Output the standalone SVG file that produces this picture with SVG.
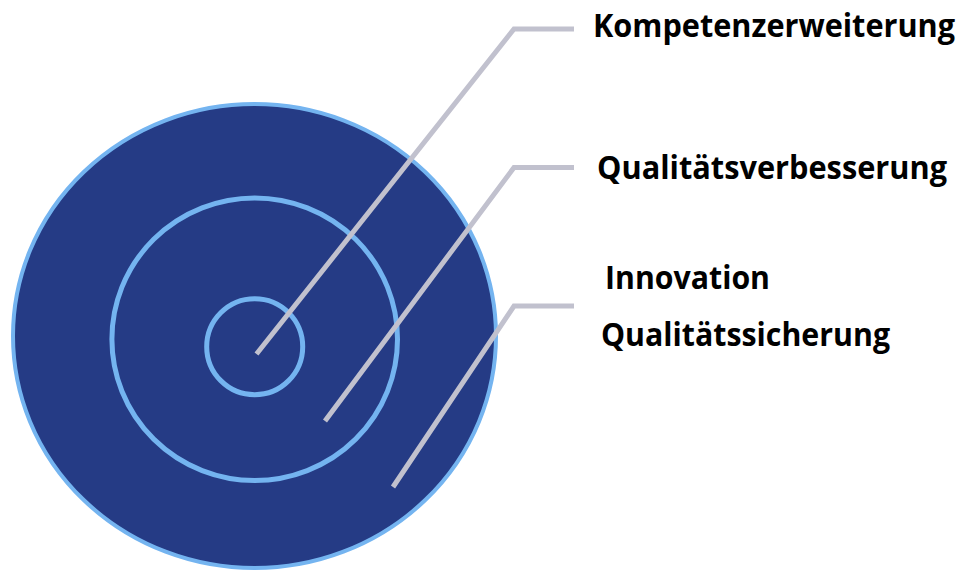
<svg xmlns="http://www.w3.org/2000/svg" width="962" height="570" viewBox="0 0 962 570">
<style>
.ring{fill:none;stroke:#74B4F0;stroke-width:5}
.conn{fill:none;stroke:#C1C1CE;stroke-width:5;stroke-linejoin:miter}
.lbl{font-family:"Open Sans","Liberation Sans",sans-serif;font-weight:bold;font-size:32px;fill:#000}
</style>
<rect width="962" height="570" fill="#fff"/>
<g id="outer">
<ellipse cx="254.5" cy="336" rx="241.5" ry="232" fill="#253B85" stroke="#74B4F0" stroke-width="4"/>
</g>
<g id="middle">
<ellipse class="ring" cx="254.7" cy="339.2" rx="142.8" ry="141.3"/>
</g>
<g id="inner">
<circle class="ring" cx="254.7" cy="346.7" r="48"/>
</g>
<g id="connectors">
<polyline class="conn" points="256.5,354 514,29 574,29"/>
<polyline class="conn" points="325,421 514,167.5 574,167.5"/>
<polyline class="conn" points="393,487 514,306 574,306"/>
</g>
<g id="label-kompetenz">
<text class="lbl" x="593" y="37" textLength="362" lengthAdjust="spacingAndGlyphs">Kompetenzerweiterung</text>
</g>
<g id="label-qualitaetsverbesserung">
<text class="lbl" x="597" y="179" textLength="350" lengthAdjust="spacingAndGlyphs">Qualitätsverbesserung</text>
</g>
<g id="label-innovation">
<text class="lbl" x="605" y="289" textLength="165" lengthAdjust="spacingAndGlyphs">Innovation</text>
</g>
<g id="label-qualitaetssicherung">
<text class="lbl" x="601" y="346" textLength="289" lengthAdjust="spacingAndGlyphs">Qualitätssicherung</text>
</g>
</svg>
